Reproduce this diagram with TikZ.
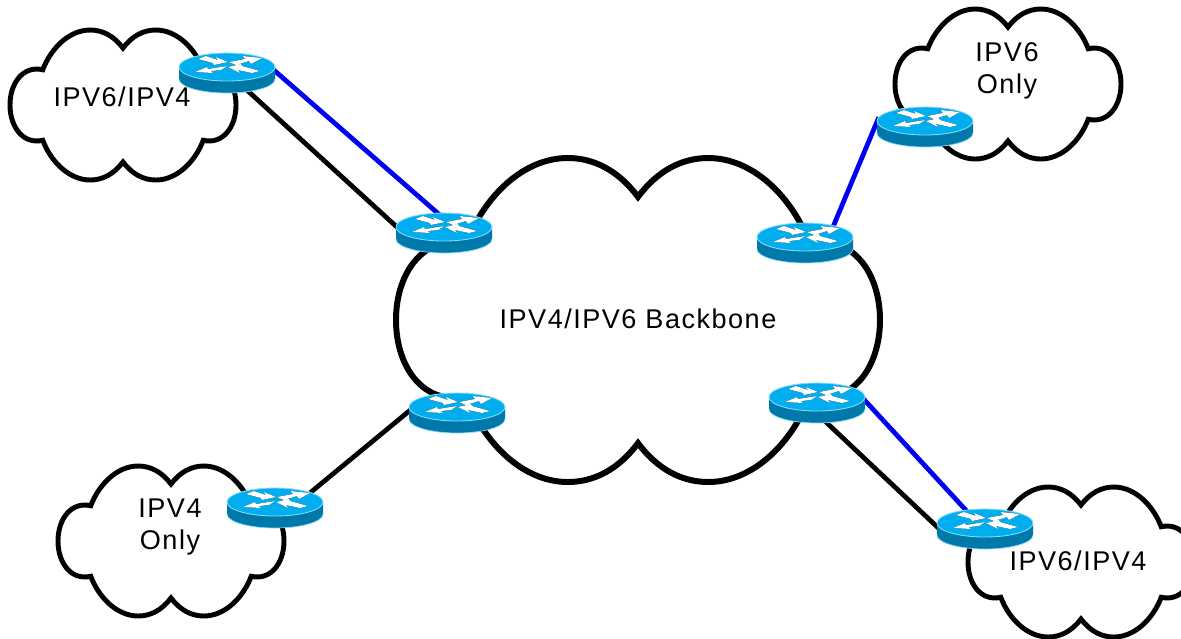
\documentclass[tikz,border=0pt]{standalone}
\usepackage{fontspec}
\setmainfont{Liberation Sans}[LetterSpace=5.5]
\usetikzlibrary{backgrounds}
\definecolor{routertop}{RGB}{0,174,239}
\definecolor{routerside}{RGB}{0,120,170}
\definecolor{routerrim}{RGB}{130,220,250}
\definecolor{linkblue}{RGB}{0,0,240}
\tikzset{
    label/.style={font=\fontsize{7.7}{9.1}\selectfont, align=center, inner sep=0pt},
    black link/.style={draw=black, line width=1.35pt, shorten <=-3pt, shorten >=-3pt},
    blue link/.style={draw=linkblue, line width=1.35pt, shorten <=-3pt, shorten >=-3pt},
    router/.style={minimum width=0.99cm, minimum height=0.43cm, inner sep=0pt, path picture={
        \begin{scope}[shift={(path picture bounding box.center)}]
            \fill[routerside] (-48,-6) -- (-48,6) arc[start angle=180, end angle=0, x radius=48, y radius=14] -- (48,-6) -- cycle;
            \draw[routerrim, line width=0.2pt] (-48,6) arc[start angle=180, end angle=0, x radius=48, y radius=14];
            \fill[routertop] (0,-6) ellipse[x radius=48, y radius=14];
            \draw[routerrim, line width=0.25pt] (0,-6) ellipse[x radius=48, y radius=14];
            \foreach \glyphcolor/\glyphdrop in {black/0.8, white/0} {
                \fill[\glyphcolor, shift={(0,\glyphdrop)}]
                    (-29,-14) -- (-21,-17) -- (-9,-13) -- (-11,-16) -- (1,-11) -- (-13,-8) -- (-14,-10) -- cycle
                    (2,-11) -- (9,-8) -- (22,-12) -- (24,-9) -- (35,-15) -- (16,-17) -- (18,-14) -- cycle
                    (-32,-1) -- (-20,-6) -- (-19,-4) -- (0,-7) -- (-6,-3) -- (-16,-2) -- (-14,0) -- cycle
                    (33,-2) -- (25,0) -- (11,-3) -- (13,0) -- (1,-6) -- (14,-9) -- (15,-7) -- cycle;
            }
        \end{scope}
    }}
}
% x, y, half width, half height, line width
\newcommand{\netcloud}[5]{
    \begin{scope}[shift={(#1,#2)}, xscale=#3, yscale=#4]
        \draw[line width=#5, line join=miter] (0,-0.76)
            .. controls (-0.08,-0.92) and (-0.18,-1) .. (-0.29,-1)
            .. controls (-0.48,-1) and (-0.64,-0.75) .. (-0.71,-0.47)
            .. controls (-0.88,-0.53) and (-1,-0.3) .. (-1,0)
            .. controls (-1,0.3) and (-0.88,0.53) .. (-0.71,0.47)
            .. controls (-0.64,0.75) and (-0.48,1) .. (-0.29,1)
            .. controls (-0.18,1) and (-0.08,0.92) .. (0,0.76)
            .. controls (0.08,0.92) and (0.18,1) .. (0.29,1)
            .. controls (0.48,1) and (0.64,0.75) .. (0.71,0.47)
            .. controls (0.88,0.53) and (1,0.3) .. (1,0)
            .. controls (1,-0.3) and (0.88,-0.53) .. (0.71,-0.47)
            .. controls (0.64,-0.75) and (0.48,-1) .. (0.29,-1)
            .. controls (0.18,-1) and (0.08,-0.92) .. (0,-0.76) -- cycle;
    \end{scope}
}
\begin{document}
\begin{tikzpicture}[x=0.01cm, y=-0.01cm]
    \useasboundingbox (0,0) rectangle (1181,638);

    \node[router] (edgeA) at (227,73) {};
    \node[router] (coreA) at (444,233) {};
    \node[router] (coreB) at (805,243) {};
    \node[router] (edgeB) at (925,127) {};
    \node[router] (coreC) at (457,413) {};
    \node[router] (edgeC) at (275,508) {};
    \node[router] (coreD) at (817,403) {};
    \node[router] (edgeD) at (985,529) {};

    \node[label] (backbone) at (638,319) {IPV4/IPV6 Backbone};
    \node[label] (siteA) at (122,97) {IPV6/IPV4};
    \node[label] (siteB) at (1007,71) {IPV6\\Only};
    \node[label] (siteC) at (170,527) {IPV4\\Only};
    \node[label] (siteD) at (1078,561) {IPV6/IPV4};

    \begin{scope}[on background layer]
        \netcloud{638}{320}{242}{162}{1.7pt}
        \netcloud{123}{105}{113}{75}{1.4pt}
        \netcloud{1008}{84}{113}{75}{1.4pt}
        \netcloud{171}{541}{113}{75}{1.4pt}
        \netcloud{1081}{562}{113}{75}{1.4pt}

        \draw[blue link] (edgeA.east) -- (coreA.112);
        \draw[black link] (edgeA.-41) -- (coreA.170);
        \draw[blue link] (edgeB.west) -- (coreB.36);
        \draw[black link] (edgeC.27) -- (coreC.west);
        \draw[blue link] (coreD.east) -- (edgeD.135);
        \draw[black link] (coreD.-61) -- (edgeD.175);
    \end{scope}
\end{tikzpicture}
\end{document}
